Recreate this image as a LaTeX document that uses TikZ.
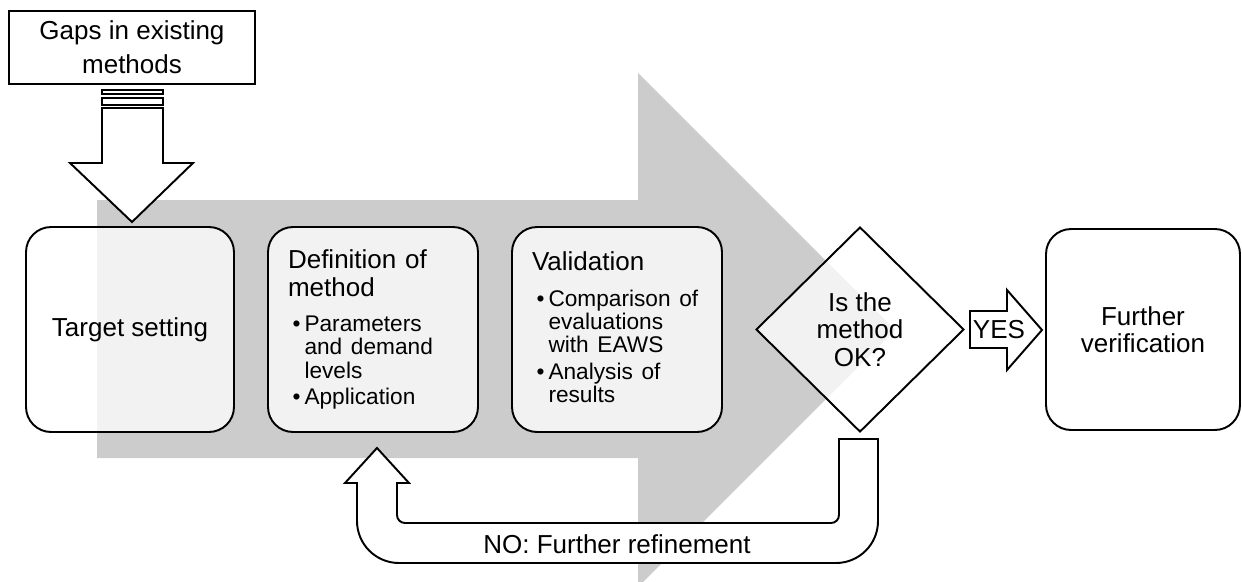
\documentclass[tikz,border=0pt]{standalone}
\usepackage{fontspec}
\setmainfont{Liberation Sans}
\usetikzlibrary{shapes.geometric}

\newcommand{\titlesize}{\fontsize{14.8}{15.6}\selectfont}
\newcommand{\bulletsize}{\fontsize{12.9}{13.25}\selectfont}
\newcommand{\stepitem}[1]{\par\hangindent=0.33cm\hangafter=1\noindent
  \makebox[0.33cm][l]{\hspace{0.09cm}\textbullet}#1\par}

\begin{document}
\begin{tikzpicture}[x = 0.02cm, y = -0.02cm, line width = 1.1pt,
    stage/.style = {draw, rounded corners = 0.5cm, fill = white, fill opacity = 0.75, text opacity = 1,
                    minimum width = 4.2cm, minimum height = 4.1cm, font = \titlesize},
    decision/.style = {diamond, draw, fill = white, fill opacity = 0.75, text opacity = 1, aspect = 1,
                    inner sep = 0pt, minimum width = 4.16cm, minimum height = 4.1cm, align = center,
                    font = \titlesize},
    source/.style = {draw, fill = white, minimum width = 4.92cm, minimum height = 1.46cm, align = center,
                    font = \fontsize{14.8}{19.3}\selectfont},
    blockarrow/.style = {draw, fill = white}]
      \useasboundingbox (0, 0) rectangle (1242, 582);
      \clip (0, 0) rectangle (1242, 582);

      % big grey process arrow
      \fill [black!20] (97, 200) -- (638, 200) -- (638, 73) -- (895, 330) -- (638, 587)
                       -- (638, 458) -- (97, 458) -- cycle;

      \node [stage, minimum width = 4.16cm] (target) at (130, 329.5) {Target setting};
      \node [stage, text width = 3.4cm, align = left] (define) at (373, 329.5)
            {Definition of\\method\par
             \bulletsize\vspace{6.9pt}
             \stepitem{Parameters\newline and demand\newline levels}
             \vspace{1.8pt}
             \stepitem{Application}};
      \node [stage, text width = 3.4cm, align = left] (validate) at (617, 329.5)
            {Validation\par
             \bulletsize\vspace{6.9pt}
             \stepitem{Comparison of\newline evaluations\newline with EAWS}
             \vspace{1.8pt}
             \stepitem{Analysis of\newline results\vphantom{p}}};
      \node [decision] (ok) at (860, 329.5) {Is the\\method\\OK?};
      \node [stage, minimum width = 3.88cm, minimum height = 4.02cm, align = center] (verify)
            at (1143, 329.5) {Further\\verification};
      \node [source] (gaps) at (132, 47.5) {Gaps in existing\\methods};

      % striped arrow into target setting
      \draw [blockarrow] (102, 90) rectangle (163, 94);
      \draw [blockarrow] (102, 98) rectangle (163, 105);
      \draw [blockarrow] (102, 108) -- (163, 108) -- (163, 163) -- (193, 163) -- (132, 222)
                         -- (70, 163) -- (102, 163) -- cycle;

      % yes arrow
      \draw [blockarrow] (970, 311) -- (1007, 311) -- (1007, 290) -- (1042, 330) -- (1007, 370)
                         -- (1007, 348) -- (970, 348) -- cycle;
      \node [font = \titlesize] (yes) at (999, 330) {YES};

      % feedback arrow
      \draw [blockarrow] (377, 448) -- (409, 483) -- (397, 483) -- (397, 515)
                         arc [start angle = 180, end angle = 90, radius = 8] -- (831, 523)
                         arc [start angle = 90, end angle = 0, radius = 8] -- (839, 439)
                         -- (878, 439) -- (878, 521)
                         arc [start angle = 0, end angle = 90, radius = 42] -- (399, 563)
                         arc [start angle = 90, end angle = 180, radius = 42] -- (357, 483)
                         -- (345, 483) -- cycle;
      \node [font = \titlesize] (refine) at (617, 544) {NO: Further refinement};
\end{tikzpicture}
\end{document}
